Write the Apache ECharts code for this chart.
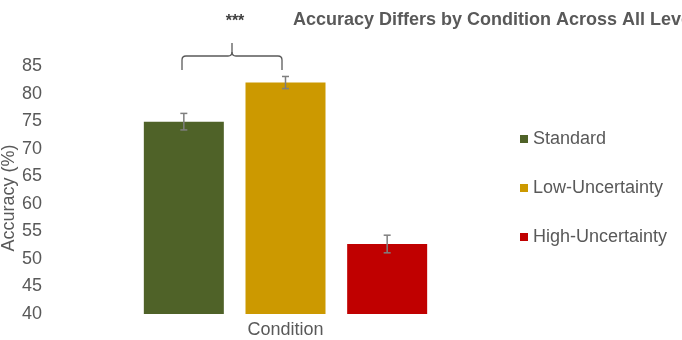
<!DOCTYPE html>
<html lang="en">
  <head>
    <meta charset="UTF-8" />
    <title>Accuracy by Condition</title>
    <script src="https://cdn.jsdelivr.net/npm/echarts@6/dist/echarts.min.js"></script>
    <style>
      body{margin:0;padding:0;background:#fff;}
      #main{width:682px;height:340px;}
    </style>
  </head>
  <body>
    <div id="main"></div>
    <script>
      // data
      var conditions = ['Standard', 'Low-Uncertainty', 'High-Uncertainty'];
      var accuracy = [74.9, 82.0, 52.7];
      var errors = [1.5, 1.1, 1.6];
      var colors = ['#4F6228', '#CC9900', '#C00000'];
      var yTicks = [40, 45, 50, 55, 60, 65, 70, 75, 80, 85];

      var grey = '#595959';
      var font = 'Liberation Sans, Arial, sans-serif';

      var chart = echarts.init(document.getElementById('main'));

      // one bar series per condition, each on its own slot, so the legend lists them
      var barSeries = conditions.map(function (name, i) {
        var d = conditions.map(function (c, j) { return j === i ? accuracy[i] : '-'; });
        return {
          name: name,
          type: 'bar',
          stack: 'all',
          barWidth: 80,
          data: d,
          itemStyle: { color: colors[i] }
        };
      });

      var errSeries = {
        type: 'custom',
        silent: true,
        z: 10,
        data: accuracy.map(function (v, i) { return [i, v - errors[i], v + errors[i]]; }),
        renderItem: function (params, api) {
          var lo = api.coord([api.value(0), api.value(1)]);
          var hi = api.coord([api.value(0), api.value(2)]);
          var w = 3.5;
          var st = { stroke: '#7F7F7F', lineWidth: 1.5 };
          return {
            type: 'group',
            children: [
              { type: 'line', shape: { x1: lo[0], y1: lo[1], x2: hi[0], y2: hi[1] }, style: st },
              { type: 'line', shape: { x1: hi[0] - w, y1: hi[1], x2: hi[0] + w, y2: hi[1] }, style: st },
              { type: 'line', shape: { x1: lo[0] - w, y1: lo[1], x2: lo[0] + w, y2: lo[1] }, style: st }
            ]
          };
        }
      };

      // curly brace over the first two bars
      var bs = { stroke: '#595959', lineWidth: 1.3, fill: 'none' };
      var brace = {
        type: 'group',
        children: [
          { type: 'line', shape: { x1: 182, y1: 70, x2: 182, y2: 60 }, style: bs },
          { type: 'bezierCurve', shape: { x1: 182, y1: 60, cpx1: 182, cpy1: 56, x2: 186, y2: 56 }, style: bs },
          { type: 'line', shape: { x1: 186, y1: 56, x2: 228, y2: 56 }, style: bs },
          { type: 'bezierCurve', shape: { x1: 228, y1: 56, cpx1: 232, cpy1: 56, x2: 232, y2: 52 }, style: bs },
          { type: 'line', shape: { x1: 232, y1: 52, x2: 232, y2: 43 }, style: bs },
          { type: 'bezierCurve', shape: { x1: 232, y1: 52, cpx1: 232, cpy1: 56, x2: 236, y2: 56 }, style: bs },
          { type: 'line', shape: { x1: 236, y1: 56, x2: 278, y2: 56 }, style: bs },
          { type: 'bezierCurve', shape: { x1: 278, y1: 56, cpx1: 282, cpy1: 56, x2: 282, y2: 60 }, style: bs },
          { type: 'line', shape: { x1: 282, y1: 60, x2: 282, y2: 70 }, style: bs }
        ]
      };

      var option = {
        animation: false,
        backgroundColor: '#fff',
        textStyle: { fontFamily: font },
        grid: { left: 133, width: 305, top: 66, bottom: 26, outerBoundsMode: 'none' },
        legend: {
          orient: 'vertical',
          left: 515,
          top: 125,
          itemWidth: 8,
          itemHeight: 8,
          itemGap: 31,
          icon: 'rect',
          data: conditions,
          textStyle: { color: grey, fontSize: 18, fontFamily: font }
        },
        xAxis: {
          type: 'category',
          data: conditions,
          name: 'Condition',
          nameLocation: 'middle',
          nameGap: 7,
          nameTextStyle: { color: grey, fontSize: 18, fontFamily: font, verticalAlign: 'top' },
          axisLine: { show: false },
          axisTick: { show: false },
          axisLabel: { show: false }
        },
        yAxis: {
          type: 'value',
          min: yTicks[0],
          max: yTicks[yTicks.length - 1],
          interval: 5,
          name: 'Accuracy (%)',
          nameLocation: 'middle',
          nameGap: 113,
          nameTextStyle: { color: grey, fontSize: 18, fontFamily: font, padding: [0, 16, 0, 0] },
          splitLine: { show: false },
          axisLine: { show: false },
          axisTick: { show: false },
          axisLabel: { color: grey, fontSize: 18, fontFamily: font, margin: 91 }
        },
        graphic: [
          {
            type: 'text',
            x: 293,
            y: 20,
            style: {
              text: 'Accuracy Differs by Condition Across All Levels',
              fill: grey,
              font: 'bold 18px ' + font,
              verticalAlign: 'middle'
            }
          },
          {
            type: 'text',
            x: 235,
            y: 22,
            style: {
              text: '***',
              fill: '#404040',
              font: 'bold 16px ' + font,
              align: 'center',
              verticalAlign: 'middle'
            }
          },
          brace
        ],
        series: barSeries.concat([errSeries])
      };

      chart.setOption(option);
    </script>
  </body>
</html>
